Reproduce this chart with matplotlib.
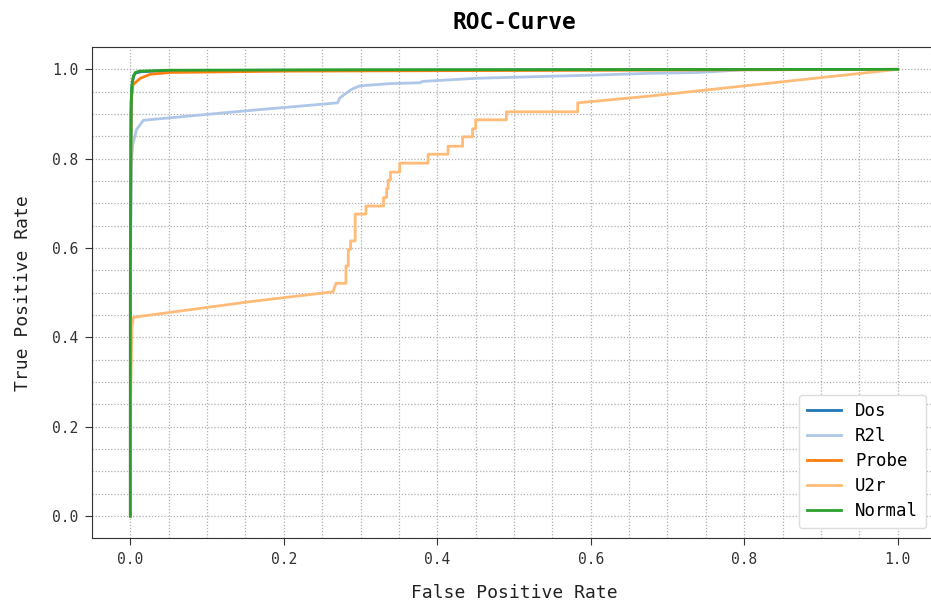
import matplotlib
matplotlib.use("Agg")
import matplotlib.pyplot as plt
from matplotlib.ticker import MultipleLocator

# --- Data ---
dos_fpr = [0.0, 0.0, 0.001, 0.002, 0.004, 0.007, 0.015, 0.05, 0.2, 1.0]
dos_tpr = [0.0, 0.50, 0.90, 0.96, 0.985, 0.992, 0.995, 0.997, 0.998, 1.0]

r2l_fpr = [0.0, 0.0, 0.001, 0.003, 0.008, 0.017, 0.156, 0.27, 0.273, 0.288, 0.299,
           0.338, 0.377, 0.381, 0.451, 0.602, 0.676, 0.74, 0.80, 1.0]
r2l_tpr = [0.0, 0.45, 0.78, 0.83, 0.865, 0.886, 0.908, 0.925, 0.936, 0.955, 0.963,
           0.968, 0.970, 0.973, 0.980, 0.987, 0.991, 0.993, 0.999, 1.0]

probe_fpr = [0.0, 0.0, 0.001, 0.0035, 0.013, 0.026, 0.052, 0.2, 1.0]
probe_tpr = [0.0, 0.60, 0.93, 0.966, 0.980, 0.989, 0.993, 0.996, 1.0]

u2r_fpr = [0.0, 0.0, 0.002, 0.004, 0.156, 0.264, 0.268, 0.281, 0.281, 0.284, 0.284,
           0.287, 0.287, 0.293, 0.293, 0.307, 0.307, 0.330, 0.330, 0.334, 0.334,
           0.336, 0.336, 0.339, 0.339, 0.351, 0.351, 0.388, 0.388, 0.414, 0.414,
           0.433, 0.433, 0.446, 0.446, 0.450, 0.450, 0.490, 0.490, 0.583, 0.583,
           0.676, 1.0]
u2r_tpr = [0.0, 0.22, 0.42, 0.445, 0.480, 0.502, 0.521, 0.521, 0.560, 0.560, 0.597,
           0.597, 0.616, 0.616, 0.676, 0.676, 0.694, 0.694, 0.713, 0.713, 0.733,
           0.733, 0.752, 0.752, 0.770, 0.770, 0.790, 0.790, 0.810, 0.810, 0.828,
           0.828, 0.849, 0.849, 0.867, 0.867, 0.887, 0.887, 0.905, 0.905, 0.925,
           0.940, 1.0]

normal_fpr = [0.0, 0.0, 0.001, 0.002, 0.004, 0.0065, 0.012, 0.05, 0.3, 1.0]
normal_tpr = [0.0, 0.55, 0.92, 0.965, 0.985, 0.993, 0.996, 0.998, 0.999, 1.0]

labels = ["Dos", "R2l", "Probe", "U2r", "Normal"]
colors = ["#1f77b4", "#aec7e8", "#ff7f0e", "#ffbb78", "#2ca02c"]

# --- Plot ---
plt.rcParams['font.family'] = ['DejaVu Sans Mono']

fig = plt.figure(figsize=(9.31, 6.05), dpi=100)
# the reference is cropped on the right, so the axes run slightly past the figure edge
ax = fig.add_axes([0.0988, 0.110, 1.0054 - 0.0988, 0.9223 - 0.110])

curves = [(dos_fpr, dos_tpr), (r2l_fpr, r2l_tpr), (probe_fpr, probe_tpr),
          (u2r_fpr, u2r_tpr), (normal_fpr, normal_tpr)]
for (fpr, tpr), lab, col in zip(curves, labels, colors):
    ax.plot(fpr, tpr, color=col, lw=2, label=lab)

ax.xaxis.set_major_locator(MultipleLocator(0.2))
ax.yaxis.set_major_locator(MultipleLocator(0.2))
ax.xaxis.set_minor_locator(MultipleLocator(0.05))
ax.yaxis.set_minor_locator(MultipleLocator(0.05))
ax.grid(which='both', linestyle=(0, (1, 1.5)), color='#b0b0b0', linewidth=0.9)
ax.tick_params(which='minor', length=0)
ax.tick_params(which='major', labelsize=10.5, colors='#333333', length=5, pad=5)

for sp in ax.spines.values():
    sp.set_color('#333333')

ax.set_title("ROC-Curve", fontsize=16.5, fontweight='bold', pad=13)
ax.set_xlabel("False Positive Rate", fontsize=13, labelpad=12, color='#222222')
ax.set_ylabel("True Positive Rate", fontsize=13, labelpad=14, color='#222222')

leg = ax.legend(loc='lower right', fontsize=12.5, frameon=True, fancybox=True,
                handlelength=2.0, borderpad=0.45, labelspacing=0.4, borderaxespad=0,
                bbox_to_anchor=(926 / 931, 1 - 528 / 605), bbox_transform=fig.transFigure)
leg.get_frame().set_edgecolor('#dddddd')
leg.get_frame().set_alpha(1.0)

plt.savefig("out.png", dpi=100)
